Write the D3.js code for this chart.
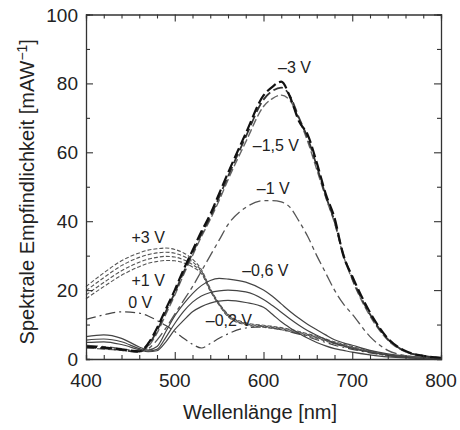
<!DOCTYPE html>
<html>
<head>
<meta charset="utf-8">
<script src="https://cdnjs.cloudflare.com/ajax/libs/d3/7.8.5/d3.min.js"></script>
<style>
  body { margin: 0; background: #fff; }
  text { font-family: "Liberation Sans", Arial, sans-serif; fill: #222; }
</style>
</head>
<body>
<script>
// wavelength grid shared by all curves (nm)
var wavelengths = [400,420,440,460,470,480,490,500,510,520,530,540,550,560,580,600,610,620,630,640,650,660,670,680,690,700,720,740,760,780,800];

// responsivity values, mA/W
var vm3 = [3.6,3.3,2.8,2.2,4.5,9,14.5,20,26,31.5,37,42,48,54,65.5,76.5,79,80.5,76,69,65,57,48,41,30,24,13.5,6,2.3,0.9,0.3];
var vm2 = [3.4,3.1,2.6,2.1,4,8.2,13.8,19.2,25.2,30.7,36.2,41.2,47,53,64.5,75.3,77.8,78.8,76.3,70,64,56,47.5,40,30.5,23.5,13,5.8,2.2,0.9,0.3];
var vm15 = [3.2,2.9,2.5,2,3.6,7.5,13,18.5,24.5,30,35.5,40.5,46,52,63,73.3,75.6,76.6,75,69.5,63,55,47,39.5,30,23,12.5,5.5,2.1,0.9,0.3];
var vm1 = [4,3.6,3,2.3,3,5.5,9,13,17,21,25.5,30,34.5,39,44,46,46,45.6,44,40,35.5,30,25,20,16,13,6.5,2.5,1,0.4,0.2];
var vm06 = [6.5,7,6,3.5,2.6,3.6,8,12.5,16,19,21.3,22.8,23.4,23.2,22.3,20,18.2,16,13.8,11.8,10,8.5,7,5.6,4.7,4,2.5,1.5,0.9,0.5,0.3];
var vm04 = [5.5,5.8,5,3,2.3,2.8,6.3,10.3,13.8,16.5,18.3,19.3,19.8,20,19.5,17.3,15.5,13.6,11.6,9.8,8.2,6.9,5.7,4.6,3.8,3.1,2,1.2,0.7,0.4,0.2];
var vm02 = [4.8,5,4.2,2.7,2.1,2.4,5,8.5,11.2,13.7,15.2,16.2,16.8,17,16.4,15,13,10.8,9,7.4,6,4.8,3.8,3,2.5,2,1.2,0.6,0.3,0.2,0.1];
var v0 = [11.5,12.8,13.7,13.3,12.5,11.2,9.7,8,6,4.3,3.2,4.5,6,7.3,9,9.3,9,8.5,7.9,7.2,6.4,5.6,4.8,4,3.4,2.8,1.8,1,0.5,0.2,0.1];
var vp3 = [21,25,28.5,30.8,31.6,32,32.2,31.8,30.8,29,26,20.5,16.2,13,10.5,9.8,9.5,9.1,8.6,8,7.3,6.6,5.8,5,4.3,3.6,2.4,1.3,0.6,0.3,0.1];
var vp2 = [19.8,23.6,27.1,29.5,30.3,30.8,31,30.7,29.8,28.2,25.6,20.2,16,12.8,10.3,9.6,9.3,8.9,8.4,7.8,7.1,6.4,5.6,4.8,4.1,3.4,2.2,1.2,0.6,0.3,0.1];
var vp1 = [18.6,22.2,25.6,28.1,29,29.5,29.8,29.6,28.8,27.4,25.3,20,15.8,12.5,10.1,9.4,9.1,8.7,8.2,7.6,6.9,6.2,5.4,4.6,3.9,3.3,2.1,1.1,0.5,0.2,0.1];
var vp05 = [17.5,21,24.3,26.8,27.8,28.3,28.6,28.5,27.9,26.7,24.8,19.7,15.6,12.3,9.9,9.2,8.9,8.5,8,7.4,6.7,6,5.2,4.4,3.7,3.1,2,1,0.5,0.2,0.1];

var xTicks = [400, 500, 600, 700, 800];
var yTicks = [0, 20, 40, 60, 80, 100];

// curve labels: text, wavelength, value
var labelText = ["\u20133 V", "\u20131,5 V", "\u20131 V", "+3 V", "+1 V", "0 V", "\u20130,6 V", "\u20130,2 V"];
var labelNm = [635, 614, 611, 470, 470, 461, 602, 561];
var labelVal = [84.5, 62, 49.6, 35.4, 22.9, 16.3, 25.8, 11.3];

var width = 460, height = 430;
var margin = {top: 14.5, right: 19, bottom: 71, left: 86};

var svg = d3.select('body').append('svg')
  .attr('width', width)
  .attr('height', height);

var x = d3.scaleLinear().domain([400, 800]).range([margin.left, width - margin.right]);
var y = d3.scaleLinear().domain([0, 100]).range([height - margin.bottom, margin.top]);

// line styles per series
var series = [
  {v: vp05, stroke: '#555', w: 1.1, dash: '4,2'},
  {v: vp1, stroke: '#555', w: 1.1, dash: '4,2'},
  {v: vp2, stroke: '#555', w: 1.1, dash: '4,2'},
  {v: vp3, stroke: '#555', w: 1.1, dash: '4,2'},
  {v: v0, stroke: '#444', w: 1.2, dash: '10,4,2,4'},
  {v: vm02, stroke: '#444', w: 1.2, dash: null},
  {v: vm04, stroke: '#444', w: 1.2, dash: null},
  {v: vm06, stroke: '#444', w: 1.2, dash: null},
  {v: vm1, stroke: '#555', w: 1.3, dash: '12,4,4,4'},
  {v: vm15, stroke: '#666', w: 1.4, dash: '8,3'},
  {v: vm2, stroke: '#333', w: 1.8, dash: '10,4'},
  {v: vm3, stroke: '#111', w: 2.2, dash: '11,4'}
];

var line = d3.line()
  .x(function(d, i) { return x(wavelengths[i]); })
  .y(function(d) { return y(d); })
  .curve(d3.curveMonotoneX);

svg.append('g').selectAll('path')
  .data(series)
  .enter().append('path')
  .attr('d', function(d) { return line(d.v); })
  .attr('fill', 'none')
  .attr('stroke', function(d) { return d.stroke; })
  .attr('stroke-width', function(d) { return d.w; })
  .attr('stroke-dasharray', function(d) { return d.dash; });

// frame with inward ticks on every side
var plotW = width - margin.left - margin.right;
var plotH = height - margin.top - margin.bottom;

var bottomAxis = d3.axisBottom(x).tickValues(d3.range(400, 801, 20))
  .tickSize(-4).tickFormat('');
var topAxis = d3.axisTop(x).tickValues(d3.range(400, 801, 20))
  .tickSize(-4).tickFormat('');
var leftAxis = d3.axisLeft(y).tickValues(d3.range(0, 101, 10))
  .tickSize(-4).tickFormat('');
var rightAxis = d3.axisRight(y).tickValues(d3.range(0, 101, 10))
  .tickSize(-4).tickFormat('');

var gB = svg.append('g').attr('transform', 'translate(0,' + y(0) + ')').call(bottomAxis);
var gT = svg.append('g').attr('transform', 'translate(0,' + y(100) + ')').call(topAxis);
var gL = svg.append('g').attr('transform', 'translate(' + x(400) + ',0)').call(leftAxis);
var gR = svg.append('g').attr('transform', 'translate(' + x(800) + ',0)').call(rightAxis);

// major ticks longer
[gB, gT].forEach(function(g, k) {
  g.selectAll('.tick line').attr('y2', function(d) {
    var len = (d % 100 === 0) ? 7 : 4;
    return k === 0 ? -len : len;
  });
});
[gL, gR].forEach(function(g, k) {
  g.selectAll('.tick line').attr('x2', function(d) {
    var len = (d % 20 === 0) ? 7 : 4;
    return k === 0 ? len : -len;
  });
});

[gB, gT, gL, gR].forEach(function(g) {
  g.select('.domain').attr('stroke', '#333').attr('stroke-width', 1.3);
  g.selectAll('.tick line').attr('stroke', '#333').attr('stroke-width', 1.1);
});

// tick labels
svg.append('g').selectAll('text')
  .data(xTicks)
  .enter().append('text')
  .attr('x', function(d) { return x(d); })
  .attr('y', y(0) + 28)
  .attr('text-anchor', 'middle')
  .style('font-size', '19px')
  .text(function(d) { return d; });

svg.append('g').selectAll('text')
  .data(yTicks)
  .enter().append('text')
  .attr('x', x(400) - 8)
  .attr('y', function(d) { return y(d) + 7; })
  .attr('text-anchor', 'end')
  .style('font-size', '19px')
  .text(function(d) { return d; });

// axis titles
svg.append('text')
  .attr('x', 260)
  .attr('y', 419)
  .attr('text-anchor', 'middle')
  .style('font-size', '20px')
  .text('Wellenl\u00e4nge [nm]');

var yt = svg.append('text')
  .attr('transform', 'translate(34,' + (margin.top + plotH / 2 + 5) + ') rotate(-90)')
  .attr('text-anchor', 'middle')
  .style('font-size', '20px');
yt.append('tspan').text('Spektrale Empfindlichkeit [mAW');
yt.append('tspan').attr('dy', -7).style('font-size', '14px').text('\u22121');
yt.append('tspan').attr('dy', 7).text(']');

// curve labels
svg.append('g').selectAll('text')
  .data(labelText)
  .enter().append('text')
  .attr('x', function(d, i) { return x(labelNm[i]); })
  .attr('y', function(d, i) { return y(labelVal[i]) + 5.5; })
  .attr('text-anchor', 'middle')
  .style('font-size', '16px')
  .text(function(d) { return d; });
</script>
</body>
</html>
